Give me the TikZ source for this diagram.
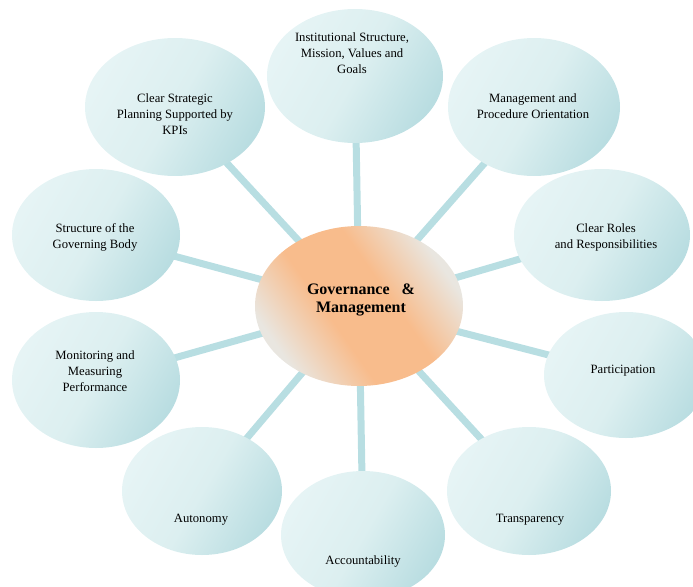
\documentclass[tikz,border=0pt]{standalone}
\usepackage{fontspec}
\setmainfont{Liberation Serif}
\usetikzlibrary{shapes.geometric, backgrounds}

\definecolor{bubblelight}{HTML}{E6F4F5}
\definecolor{bubblemid}{HTML}{DCEFF0}
\definecolor{bubbledark}{HTML}{B9DDE1}
\definecolor{spokecol}{HTML}{B8DEE2}
\definecolor{hubpeach}{HTML}{F8BC8C}
\definecolor{hubpale}{HTML}{E9E6E0}

% broad peach band, pale only towards the ends
\pgfdeclareverticalshading{hubshade}{100bp}{color(0bp)=(hubpale); color(26bp)=(hubpale);
    color(42bp)=(hubpeach); color(58bp)=(hubpeach); color(74bp)=(hubpale);
    color(100bp)=(hubpale)}

\begin{document}
\begin{tikzpicture}[
    x=0.75pt, y=-0.75pt,
    bubble/.style 2 args={ellipse, inner sep=0pt,
                minimum width=#1*1.5pt, minimum height=#2*1.5pt,
                top color=bubblelight, bottom color=bubbledark,
                middle color=bubblemid, shading angle=60},
    hub/.style={ellipse, inner sep=0pt, minimum width=208*0.75pt,
                minimum height=160*0.75pt,
                shading=hubshade, shading angle=-55},
    txt/.style={align=center, font=\fontsize{9.5}{12}\selectfont},
    spoke/.style={draw=spokecol, line width=5.25pt},
]
    \useasboundingbox (0,0) rectangle (693,586);
    \clip (0,0) rectangle (693,586);

    %==================== HUB ====================
    \node[hub] (gov) at (359,306) {};
    \node[align=center, font=\fontsize{12}{13.5}\selectfont\bfseries] (gov-t)
        at (361,300) {Governance\hspace{9pt}\&\\Management};

    %==================== BUBBLES (clockwise from top) ====================
    \node[bubble={88}{67}] (inst)   at (355,76)  {};
    \node[bubble={86}{69}] (mgmt)   at (534,107) {};
    \node[bubble={88}{66}] (roles)  at (602,235) {};
    \node[bubble={82}{63}] (part)   at (626,375) {};
    \node[bubble={82}{64}] (transp) at (529,491) {};
    \node[bubble={82}{64}] (acct)   at (363,535) {};
    \node[bubble={80}{64}] (auton)  at (202,491) {};
    \node[bubble={84}{68}] (monit)  at (96,380)  {};
    \node[bubble={84}{66}] (struct) at (96,235)  {};
    \node[bubble={90}{69}] (plan)   at (175,107) {};

    %==================== bubble texts ====================
    \node[txt] (inst-t)   at (352,53)  {Institutional Structure,\\Mission, Values and\\Goals};
    \node[txt] (mgmt-t)   at (533,106) {Management and\\Procedure Orientation};
    \node[txt] (roles-t)  at (606,237) {Clear Roles\\and Responsibilities};
    \node[txt] (part-t)   at (623,371) {Participation};
    \node[txt] (transp-t) at (530,520) {Transparency};
    \node[txt] (acct-t)   at (363,561) {Accountability};
    \node[txt] (auton-t)  at (201,520) {Autonomy};
    \node[txt] (monit-t)  at (95,371)  {Monitoring and\\Measuring\\Performance};
    \node[txt] (struct-t) at (95,237)  {Structure of the\\Governing Body};
    \node[txt] (plan-t)   at (175,114) {Clear Strategic\\Planning Supported by\\KPIs};

    %==================== spokes ====================
    \begin{scope}[on background layer]
        \foreach \b in {inst, mgmt, roles, part, transp, acct, auton, monit, struct, plan}
            \draw[spoke] (gov.center) -- (\b.center);
    \end{scope}

\end{tikzpicture}
\end{document}
